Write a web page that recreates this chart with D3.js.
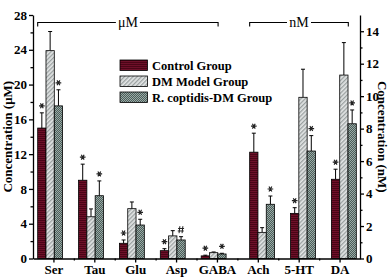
<!DOCTYPE html>
<html>
<head>
<meta charset="utf-8">
<script src="https://cdn.jsdelivr.net/npm/d3@7"></script>
<style>
  body { margin: 0; background: #fff; }
  svg text { font-family: "Liberation Serif", "Times New Roman", serif; }
</style>
</head>
<body>
<div id="plot"></div>
<script>
//Data
const umCategories = ["Ser", "Tau", "Glu", "Asp", "GABA"];
const nmCategories = ["Ach", "5-HT", "DA"];
const groups = ["Control Group", "DM Model Group", "R. coptidis-DM Group"];

//Values (μM for the first five, nM for the last three), one row per category
const controlValues = [15.0, 9.0, 1.75, 0.9, 0.3, 6.55, 2.78, 4.88];
const modelValues = [23.9, 4.8, 5.73, 2.6, 0.67, 1.61, 9.93, 11.3];
const coptidisValues = [17.55, 7.22, 3.85, 2.13, 0.52, 3.34, 6.62, 8.3];
//Upper error bars (SD)
const controlErr = [1.75, 1.85, 0.38, 0.23, 0.08, 1.17, 0.35, 0.62];
const modelErr = [2.2, 0.9, 0.77, 0.6, 0.08, 0.29, 1.73, 2.0];
const coptidisErr = [1.85, 1.7, 0.66, 0.38, 0.08, 0.51, 0.95, 0.85];
//Significance marks (control and R. coptidis bars)
const controlMarks = ["*", "*", "*", "*", "*", "*", "*", "*"];
const coptidisMarks = ["*", "*", "*", "#", "*", "*", "*", "*"];

const leftTicks = [0, 4, 8, 12, 16, 20, 24, 28];
const rightTicks = [0, 2, 4, 6, 8, 10, 12, 14];

const categories = umCategories.concat(nmCategories);
const values = [controlValues, modelValues, coptidisValues];
const errors = [controlErr, modelErr, coptidisErr];

const w = 392, h = 277;
const margin = { top: 15, right: 32, bottom: 18.5, left: 33 };

const svg = d3.select("#plot").append("svg")
    .attr("width", w)
    .attr("height", h);

//Fill patterns for the three groups
const defs = svg.append("defs");
const pCtrl = defs.append("pattern").attr("id", "pCtrl")
    .attr("patternUnits", "userSpaceOnUse").attr("width", 4).attr("height", 2);
pCtrl.append("rect").attr("width", 4).attr("height", 2).attr("fill", "#6e1029");
pCtrl.append("rect").attr("width", 4).attr("height", 1).attr("fill", "#4a0516");

const pModel = defs.append("pattern").attr("id", "pModel")
    .attr("patternUnits", "userSpaceOnUse").attr("width", 3).attr("height", 3)
    .attr("patternTransform", "rotate(45)");
pModel.append("rect").attr("width", 3).attr("height", 3).attr("fill", "#e4e6e6");
pModel.append("rect").attr("width", 1.3).attr("height", 3).attr("fill", "#9aa0a0");

const pCop = defs.append("pattern").attr("id", "pCop")
    .attr("patternUnits", "userSpaceOnUse").attr("width", 2).attr("height", 2);
pCop.append("rect").attr("width", 2).attr("height", 2).attr("fill", "#4c5e5a");
pCop.append("rect").attr("width", 1).attr("height", 1).attr("fill", "#9aaaa6");
pCop.append("rect").attr("x", 1).attr("y", 1).attr("width", 1).attr("height", 1).attr("fill", "#9aaaa6");

const fills = ["url(#pCtrl)", "url(#pModel)", "url(#pCop)"];

//Scales: one index slot per category, two y axes
const x = d3.scaleLinear()
    .domain([-0.5, categories.length - 0.5])
    .range([margin.left, w - margin.right]);
const yL = d3.scaleLinear().domain([0, 28]).range([h - margin.bottom, margin.top]);
const yR = d3.scaleLinear().domain([0, 15]).range([h - margin.bottom, margin.top]);

const barW = 8.3;
//Bars of the μM layer sit a bit left of the tick, the nM layer a bit right
const groupShift = (i) => i < umCategories.length ? -3.3 : 4.3;
const yFor = (i) => i < umCategories.length ? yL : yR;

const star = d3.symbol().type(d3.symbolAsterisk).size(22);
//Small hash sign drawn as a path
const hashPath = "M-1.2,-3.5L-2,3.5M1.8,-3.5L1,3.5M-3,-1.2H3M-3.3,1.3H2.7";

//Bars
categories.forEach((cat, i) => {
    const y = yFor(i);
    const cx = x(i) + groupShift(i);
    values.forEach((vals, g) => {
        const x0 = cx - 1.5 * barW + g * barW;
        const top = y(vals[i]);
        const errTop = y(vals[i] + errors[g][i]);
        svg.append("line")
            .attr("x1", x0 + barW / 2).attr("x2", x0 + barW / 2)
            .attr("y1", top).attr("y2", errTop)
            .attr("stroke", "#000").attr("stroke-width", 1);
        svg.append("line")
            .attr("x1", x0 + barW / 2 - 2).attr("x2", x0 + barW / 2 + 2)
            .attr("y1", errTop).attr("y2", errTop)
            .attr("stroke", "#000").attr("stroke-width", 1);
        svg.append("rect")
            .attr("x", x0).attr("y", top)
            .attr("width", barW).attr("height", y(0) - top)
            .attr("fill", fills[g])
            .attr("stroke", "#000").attr("stroke-width", 0.8);
        const mark = g === 0 ? controlMarks[i] : g === 2 ? coptidisMarks[i] : null;
        if (mark) {
            svg.append("path")
                .attr("d", mark === "*" ? star : hashPath)
                .attr("transform", `translate(${x0 + barW / 2},${errTop - 7})` + (mark === "*" ? " rotate(90)" : ""))
                .attr("fill", "none")
                .attr("stroke", "#222").attr("stroke-width", mark === "*" ? 1.2 : 1);
        }
    });
});

//Axes
const axisStyle = (g) => {
    g.selectAll("path, line").attr("stroke", "#000").attr("stroke-width", 1.3);
    g.selectAll("text").attr("font-size", 13).attr("font-weight", "bold")
        .attr("fill", "#000").attr("font-family", "Liberation Serif, serif");
};

//Minor ticks first
svg.append("g").attr("transform", `translate(${margin.left},0)`)
    .call(d3.axisLeft(yL).tickValues(d3.range(2, 28, 4)).tickSize(2.5).tickFormat(""))
    .call(g => g.select(".domain").remove())
    .call(axisStyle);
svg.append("g").attr("transform", `translate(${w - margin.right},0)`)
    .call(d3.axisRight(yR).tickValues(d3.range(1, 15, 2)).tickSize(2.5).tickFormat(""))
    .call(g => g.select(".domain").remove())
    .call(axisStyle);
svg.append("g").attr("transform", `translate(0,${h - margin.bottom})`)
    .call(d3.axisBottom(x).tickValues(d3.range(0.5, categories.length - 0.5, 1)).tickSize(2).tickFormat(""))
    .call(g => g.select(".domain").remove())
    .call(axisStyle);

svg.append("g").attr("transform", `translate(${margin.left},0)`)
    .call(d3.axisLeft(yL).tickValues(leftTicks).tickSize(4).tickSizeOuter(0).tickPadding(2))
    .call(axisStyle);
svg.append("g").attr("transform", `translate(${w - margin.right},0)`)
    .call(d3.axisRight(yR).tickValues(rightTicks).tickSize(4).tickSizeOuter(0).tickPadding(2))
    .call(axisStyle);
svg.append("g").attr("transform", `translate(0,${h - margin.bottom})`)
    .call(d3.axisBottom(x).tickValues(d3.range(categories.length)).tickSize(4).tickSizeOuter(0)
        .tickFormat((d) => categories[d]).tickPadding(2))
    .call(axisStyle);

//Axis titles
svg.append("text")
    .attr("transform", `translate(12,${(margin.top + h - margin.bottom) / 2}) rotate(-90)`)
    .attr("text-anchor", "middle")
    .attr("font-size", 13).attr("font-weight", "bold")
    .text("Concentration (μM)");
svg.append("text")
    .attr("transform", `translate(378,${(margin.top + h - margin.bottom) / 2}) rotate(90)`)
    .attr("text-anchor", "middle")
    .attr("font-size", 13).attr("font-weight", "bold")
    .text("Concentration (nM)");

//Unit brackets across the top
const brackets = [
    { label: "μM", from: 0, to: umCategories.length - 1 },
    { label: "nM", from: umCategories.length, to: categories.length - 1 }
];
brackets.forEach((b) => {
    const x1 = x(b.from) + groupShift(b.from) - 1.5 * barW;
    const x2 = x(b.to) + groupShift(b.to) + 1.5 * barW - 8;
    const xm = (x1 + x2) / 2;
    const yb = 22.5;
    const gap = 12;
    svg.append("path")
        .attr("d", `M${x1},26.5V${yb}H${xm - gap}M${xm + gap},${yb}H${x2}V26.5`)
        .attr("fill", "none").attr("stroke", "#000").attr("stroke-width", 1.1);
    svg.append("text")
        .attr("x", xm).attr("y", yb + 4.5)
        .attr("text-anchor", "middle")
        .attr("font-size", 14)
        .text(b.label);
});

//Legend
const legend = svg.selectAll(".legend").data(groups).enter().append("g")
    .attr("transform", (_, i) => `translate(120,${60 + i * 16})`);
legend.append("rect")
    .attr("width", 27.5).attr("height", 10.5)
    .attr("fill", (_, i) => fills[i])
    .attr("stroke", "#000").attr("stroke-width", 0.8);
legend.append("text")
    .attr("x", 32).attr("y", 9.5)
    .attr("font-size", 12.5).attr("font-weight", "bold")
    .text((d) => d);
</script>
</body>
</html>
